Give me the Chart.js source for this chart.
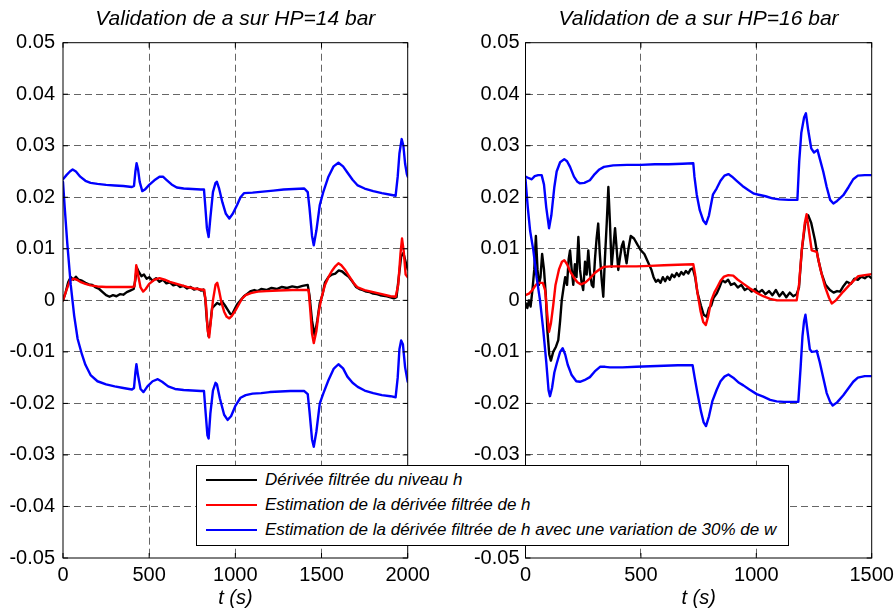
<!DOCTYPE html>
<html><head><meta charset="utf-8">
<script src="https://cdn.jsdelivr.net/npm/chart.js@4.4.1/dist/chart.umd.min.js"></script>
<style>
html,body{margin:0;padding:0;background:#fff;}
#wrap{position:relative;width:896px;height:615px;overflow:hidden;background:#fff;}
canvas{position:absolute;top:0;}
#c1{left:0;}
#c2{left:460px;}
#legend{position:absolute;left:196px;top:465px;width:593px;height:81px;border:1px solid #000;background:#fff;box-sizing:border-box;font-family:"Liberation Sans",Arial,sans-serif;font-style:italic;font-size:17px;color:#000;}
.row{position:absolute;left:0;height:20px;display:flex;align-items:center;white-space:nowrap;}
.sw{display:inline-block;width:51px;height:2px;margin-left:9px;margin-right:8px;}
</style>
</head><body>
<div id="wrap">
<canvas id="c1" width="460" height="615"></canvas>
<canvas id="c2" width="460" height="615"></canvas>
<div id="legend">
 <div class="row" style="top:4px"><span class="sw" style="background:#000"></span><span>Dérivée filtrée du niveau h</span></div>
 <div class="row" style="top:29px"><span class="sw" style="background:#f00"></span><span>Estimation de la dérivée filtrée de h</span></div>
 <div class="row" style="top:54px"><span class="sw" style="background:#00f"></span><span>Estimation de la dérivée filtrée de h avec une variation de 30% de w</span></div>
</div>
</div>
<script>
// ---------- Titles, labels, ticks ----------
const titleLeft = 'Validation de a sur HP=14 bar';
const titleRight = 'Validation de a sur HP=16 bar';
const xLabel = 't (s)';
const xTicksLeft = [0, 500, 1000, 1500, 2000];
const xTicksRight = [0, 500, 1000, 1500];
const yTickValues = [-0.05, -0.04, -0.03, -0.02, -0.01, 0, 0.01, 0.02, 0.03, 0.04, 0.05];
const yTickLabels = ['-0.05', '-0.04', '-0.03', '-0.02', '-0.01', '0', '0.01', '0.02', '0.03', '0.04', '0.05'];
const seriesNames = ['Dérivée filtrée du niveau h', 'Estimation de la dérivée filtrée de h', 'Estimation de la dérivée filtrée de h avec une variation de 30% de w'];

// ---------- Left plot (HP=14 bar) ----------
const leftBlackT = [0,15,30,45,60,75,90,110,130,150,170,190,210,230,250,270,290,310,330,350,370,390,410,420,428,440,455,470,485,500,520,540,560,580,600,620,640,660,680,700,720,740,760,780,800,815,825,835,845,855,865,880,895,910,925,940,955,970,980,995,1010,1030,1050,1070,1090,1110,1130,1150,1180,1210,1240,1270,1300,1330,1360,1390,1420,1430,1445,1460,1475,1490,1505,1520,1540,1560,1580,1600,1620,1640,1660,1680,1700,1720,1740,1760,1780,1800,1820,1840,1860,1880,1900,1920,1935,1950,1962,1975,1988,2000];
const leftBlackV = [0.0000,0.0015,0.0035,0.0045,0.0040,0.0046,0.0040,0.0038,0.0034,0.0031,0.0030,0.0025,0.0022,0.0016,0.0010,0.0007,0.0010,0.0008,0.0012,0.0011,0.0016,0.0019,0.0022,0.0040,0.0064,0.0055,0.0047,0.0050,0.0042,0.0045,0.0038,0.0043,0.0036,0.0040,0.0033,0.0035,0.0029,0.0031,0.0026,0.0028,0.0023,0.0026,0.0021,0.0023,0.0019,0.0021,0.0005,-0.0040,-0.0070,-0.0045,-0.0015,-0.0010,-0.0005,-0.0008,-0.0003,-0.0010,-0.0018,-0.0026,-0.0028,-0.0018,-0.0008,0.0000,0.0008,0.0013,0.0018,0.0020,0.0018,0.0022,0.0020,0.0024,0.0022,0.0026,0.0024,0.0027,0.0025,0.0028,0.0030,0.0010,-0.0040,-0.0068,-0.0040,-0.0005,0.0010,0.0035,0.0045,0.0050,0.0052,0.0058,0.0056,0.0050,0.0045,0.0036,0.0026,0.0022,0.0020,0.0017,0.0016,0.0013,0.0012,0.0010,0.0009,0.0008,0.0006,0.0004,0.0006,0.0050,0.0085,0.0092,0.0075,0.0060];

const leftRedT = [0,20,40,60,80,100,130,160,200,250,300,350,400,415,425,435,450,465,480,500,530,560,590,620,650,680,720,760,800,820,830,840,848,858,870,885,895,905,920,935,950,965,980,1000,1020,1040,1060,1090,1130,1180,1250,1330,1400,1425,1435,1445,1455,1470,1485,1500,1520,1540,1560,1580,1598,1615,1635,1660,1690,1710,1750,1800,1850,1900,1930,1945,1958,1967,1977,1988,2000];
const leftRedV = [0.0000,0.0020,0.0038,0.0042,0.0040,0.0036,0.0032,0.0029,0.0027,0.0026,0.0026,0.0026,0.0026,0.0027,0.0068,0.0050,0.0025,0.0017,0.0022,0.0032,0.0040,0.0043,0.0040,0.0036,0.0033,0.0030,0.0026,0.0023,0.0021,0.0020,-0.0010,-0.0060,-0.0072,-0.0040,0.0000,0.0030,0.0034,0.0020,-0.0005,-0.0022,-0.0032,-0.0035,-0.0030,-0.0020,-0.0008,0.0004,0.0010,0.0014,0.0017,0.0018,0.0019,0.0020,0.0020,0.0020,-0.0020,-0.0065,-0.0083,-0.0060,-0.0020,0.0005,0.0030,0.0045,0.0057,0.0066,0.0072,0.0068,0.0060,0.0047,0.0032,0.0025,0.0020,0.0016,0.0012,0.0008,0.0007,0.0030,0.0090,0.0120,0.0095,0.0050,0.0045];

const leftBlueUpT = [0,20,40,56,75,100,130,160,200,250,300,350,400,412,420,427,435,445,460,475,500,530,560,580,600,630,660,700,750,800,818,825,835,845,855,870,885,893,905,925,945,965,985,1010,1030,1050,1100,1160,1220,1280,1340,1400,1420,1430,1445,1455,1470,1490,1510,1540,1570,1598,1625,1650,1680,1710,1750,1800,1850,1900,1930,1942,1952,1965,1975,1985,1995,2000];
const leftBlueUpV = [0.0235,0.0243,0.0250,0.0254,0.0250,0.0240,0.0232,0.0228,0.0226,0.0224,0.0223,0.0222,0.0220,0.0222,0.0250,0.0266,0.0255,0.0230,0.0212,0.0215,0.0224,0.0233,0.0240,0.0240,0.0234,0.0225,0.0219,0.0217,0.0216,0.0215,0.0215,0.0185,0.0140,0.0123,0.0160,0.0210,0.0228,0.0230,0.0218,0.0190,0.0168,0.0159,0.0168,0.0185,0.0200,0.0208,0.0209,0.0211,0.0213,0.0215,0.0216,0.0217,0.0210,0.0180,0.0125,0.0107,0.0135,0.0185,0.0210,0.0240,0.0260,0.0267,0.0260,0.0248,0.0234,0.0223,0.0217,0.0212,0.0208,0.0205,0.0203,0.0240,0.0285,0.0313,0.0300,0.0265,0.0245,0.0240];

const leftBlueLoT = [0,10,25,45,65,85,110,130,160,200,250,300,350,400,412,420,426,435,450,467,490,520,550,575,610,650,700,750,800,818,828,838,845,855,870,885,893,910,935,955,975,1000,1030,1060,1100,1150,1200,1260,1320,1400,1420,1430,1445,1455,1470,1490,1510,1540,1570,1598,1625,1650,1680,1710,1750,1800,1850,1900,1930,1942,1952,1962,1972,1985,2000];
const leftBlueLoV = [0.0230,0.0180,0.0110,0.0030,-0.0030,-0.0075,-0.0105,-0.0125,-0.0145,-0.0157,-0.0163,-0.0167,-0.0170,-0.0173,-0.0170,-0.0140,-0.0124,-0.0145,-0.0172,-0.0178,-0.0167,-0.0157,-0.0153,-0.0158,-0.0167,-0.0172,-0.0174,-0.0175,-0.0176,-0.0176,-0.0220,-0.0262,-0.0268,-0.0220,-0.0175,-0.0160,-0.0163,-0.0190,-0.0222,-0.0232,-0.0225,-0.0205,-0.0189,-0.0184,-0.0181,-0.0180,-0.0178,-0.0177,-0.0176,-0.0176,-0.0182,-0.0215,-0.0270,-0.0284,-0.0255,-0.0200,-0.0181,-0.0155,-0.0133,-0.0124,-0.0132,-0.0148,-0.0160,-0.0168,-0.0175,-0.0180,-0.0184,-0.0186,-0.0188,-0.0150,-0.0095,-0.0078,-0.0085,-0.0130,-0.0158];

// ---------- Right plot (HP=16 bar) ----------
const rightBlackT = [0,8,15,22,30,38,45,52,58,65,72,80,88,95,103,110,120,132,142,150,157,165,172,180,187,193,200,207,214,221,229,236,243,250,258,265,272,279,287,294,301,308,315,322,330,337,344,352,359,366,373,380,388,395,402,410,417,424,431,438,446,456,470,485,500,515,530,545,555,565,575,585,595,605,615,625,635,645,655,665,675,685,695,705,715,725,735,745,760,772,785,795,805,815,828,840,852,865,878,890,905,920,935,950,965,980,995,1010,1025,1040,1055,1070,1085,1100,1115,1130,1145,1160,1175,1185,1197,1212,1225,1238,1254,1268,1283,1300,1319,1335,1350,1363,1378,1392,1410,1425,1440,1455,1470,1485,1500];
const rightBlackV = [-0.0005,-0.0015,0.0000,-0.0012,0.0020,0.0060,0.0125,0.0060,0.0030,0.0045,0.0090,0.0060,0.0010,-0.0060,-0.0105,-0.0117,-0.0100,-0.0090,-0.0077,-0.0040,0.0000,0.0025,0.0045,0.0030,0.0080,0.0097,0.0060,0.0030,0.0070,0.0045,0.0123,0.0060,0.0035,0.0020,0.0075,0.0050,0.0097,0.0055,0.0030,0.0026,0.0080,0.0120,0.0149,0.0090,0.0040,0.0007,0.0080,0.0150,0.0220,0.0150,0.0065,0.0100,0.0140,0.0100,0.0059,0.0085,0.0105,0.0114,0.0090,0.0072,0.0100,0.0125,0.0120,0.0108,0.0097,0.0090,0.0075,0.0060,0.0045,0.0036,0.0040,0.0034,0.0045,0.0037,0.0046,0.0040,0.0050,0.0045,0.0053,0.0047,0.0055,0.0050,0.0057,0.0052,0.0060,0.0062,0.0045,0.0015,-0.0010,-0.0028,-0.0032,-0.0015,-0.0010,0.0005,0.0013,0.0025,0.0039,0.0035,0.0040,0.0030,0.0033,0.0025,0.0030,0.0020,0.0024,0.0017,0.0022,0.0015,0.0020,0.0012,0.0018,0.0010,0.0020,0.0008,0.0016,0.0006,0.0015,0.0008,0.0012,0.0025,0.0097,0.0150,0.0165,0.0150,0.0117,0.0080,0.0052,0.0030,0.0020,0.0015,0.0018,0.0017,0.0028,0.0036,0.0032,0.0042,0.0040,0.0046,0.0043,0.0048,0.0043];

const rightRedT = [0,15,30,45,55,75,85,95,102,110,120,130,145,158,168,180,195,210,225,240,260,280,300,320,340,370,420,480,540,600,660,727,735,745,758,770,781,792,805,818,830,845,860,879,900,920,945,973,1000,1030,1060,1090,1130,1175,1185,1197,1210,1218,1228,1240,1262,1278,1298,1315,1327,1345,1377,1410,1442,1470,1500];
const rightRedV = [0.0010,0.0013,0.0020,0.0030,0.0034,0.0034,0.0020,-0.0030,-0.0061,-0.0045,-0.0010,0.0030,0.0060,0.0075,0.0078,0.0070,0.0055,0.0044,0.0035,0.0031,0.0035,0.0043,0.0053,0.0060,0.0065,0.0066,0.0066,0.0066,0.0067,0.0068,0.0069,0.0070,0.0050,0.0015,-0.0020,-0.0042,-0.0048,-0.0030,0.0000,0.0015,0.0025,0.0038,0.0046,0.0049,0.0048,0.0040,0.0032,0.0023,0.0015,0.0008,0.0003,0.0000,0.0000,0.0000,0.0030,0.0097,0.0150,0.0167,0.0135,0.0097,0.0094,0.0060,0.0026,0.0005,-0.0006,0.0000,0.0017,0.0033,0.0047,0.0049,0.0051];

const rightBlueUpT = [0,15,27,40,55,70,80,90,102,112,125,135,150,168,180,193,210,225,236,255,279,300,320,340,380,440,500,560,620,680,727,732,742,755,770,782,795,812,828,845,862,879,895,915,940,965,990,1010,1040,1070,1100,1140,1178,1186,1195,1207,1215,1225,1238,1250,1265,1275,1290,1305,1320,1334,1350,1377,1400,1420,1440,1470,1500];
const rightBlueUpV = [0.0240,0.0237,0.0235,0.0241,0.0243,0.0243,0.0225,0.0180,0.0140,0.0165,0.0220,0.0250,0.0268,0.0274,0.0270,0.0259,0.0240,0.0230,0.0227,0.0228,0.0233,0.0245,0.0254,0.0259,0.0262,0.0263,0.0263,0.0264,0.0264,0.0265,0.0266,0.0240,0.0205,0.0175,0.0155,0.0148,0.0165,0.0205,0.0217,0.0232,0.0242,0.0245,0.0240,0.0232,0.0222,0.0214,0.0207,0.0205,0.0202,0.0198,0.0196,0.0195,0.0195,0.0270,0.0325,0.0355,0.0363,0.0330,0.0295,0.0287,0.0292,0.0275,0.0250,0.0220,0.0195,0.0188,0.0193,0.0204,0.0220,0.0235,0.0242,0.0243,0.0243];

const rightBlueLoT = [0,10,20,34,48,63,77,90,100,106,115,125,135,150,161,172,183,200,220,236,255,279,300,323,345,366,420,480,540,600,660,724,733,745,760,772,782,795,810,828,845,862,879,900,925,944,970,1002,1030,1060,1088,1120,1150,1182,1192,1200,1207,1213,1222,1232,1240,1255,1262,1275,1290,1305,1320,1331,1350,1377,1400,1420,1440,1470,1500];
const rightBlueLoV = [0.0235,0.0180,0.0135,0.0097,0.0045,0.0000,-0.0058,-0.0120,-0.0175,-0.0186,-0.0170,-0.0140,-0.0123,-0.0100,-0.0093,-0.0105,-0.0125,-0.0145,-0.0157,-0.0158,-0.0155,-0.0149,-0.0138,-0.0129,-0.0129,-0.0130,-0.0130,-0.0129,-0.0128,-0.0127,-0.0126,-0.0126,-0.0150,-0.0180,-0.0215,-0.0237,-0.0244,-0.0225,-0.0195,-0.0174,-0.0157,-0.0148,-0.0144,-0.0150,-0.0160,-0.0165,-0.0173,-0.0182,-0.0187,-0.0193,-0.0196,-0.0197,-0.0197,-0.0197,-0.0130,-0.0070,-0.0040,-0.0028,-0.0060,-0.0095,-0.0100,-0.0099,-0.0098,-0.0120,-0.0150,-0.0180,-0.0197,-0.0204,-0.0198,-0.0184,-0.0170,-0.0158,-0.0150,-0.0147,-0.0147];

// ---------- Rendering ----------
const FONT = '"Liberation Sans", Arial, Helvetica, sans-serif';
const pts = (t, v) => t.map((x, i) => ({x: x, y: v[i]}));
const isEdge = (v, a, b) => Math.abs(v - a) < 1e-9 || Math.abs(v - b) < 1e-9;

const boxPlugin = {
  id: 'matlabBox',
  afterDraw(chart) {
    const {ctx, chartArea: a} = chart;
    const xs = chart.scales.x, ys = chart.scales.y;
    const L = 5;
    ctx.save();
    ctx.strokeStyle = '#000';
    ctx.lineWidth = 1;
    ctx.beginPath();
    xs.ticks.forEach(t => {
      const px = xs.getPixelForValue(t.value);
      ctx.moveTo(px, a.bottom); ctx.lineTo(px, a.bottom - L);
      ctx.moveTo(px, a.top); ctx.lineTo(px, a.top + L);
    });
    ys.ticks.forEach(t => {
      const py = ys.getPixelForValue(t.value);
      ctx.moveTo(a.left, py); ctx.lineTo(a.left + L, py);
      ctx.moveTo(a.right, py); ctx.lineTo(a.right - L, py);
    });
    ctx.stroke();
    ctx.strokeRect(a.left, a.top, a.right - a.left, a.bottom - a.top);
    ctx.restore();
  }
};

function makeChart(id, title, xTicks, xMax, data, yWidth, padRight, yPad) {
  const [bt, bv, rt, rv, ut, uv, lt, lv] = data;
  return new Chart(document.getElementById(id), {
    type: 'line',
    data: {
      datasets: [
        {label: seriesNames[0], data: pts(bt, bv), borderColor: '#000000', order: 2},
        {label: seriesNames[1], data: pts(rt, rv), borderColor: '#ff0000', order: 1},
        {label: seriesNames[2], data: pts(ut, uv), borderColor: '#0000ff', order: 0},
        {label: seriesNames[2] + ' ', data: pts(lt, lv), borderColor: '#0000ff', order: 0}
      ]
    },
    options: {
      responsive: false,
      animation: false,
      devicePixelRatio: 1,
      elements: {line: {borderWidth: 2.4, tension: 0, borderJoinStyle: 'round', borderCapStyle: 'round'}, point: {radius: 0, hoverRadius: 0}},
      layout: {padding: {left: 0, right: padRight, top: 0, bottom: 0}},
      plugins: {
        legend: {display: false},
        tooltip: {enabled: false},
        title: {display: true, text: title, fullSize: false, color: '#000',
          font: {family: FONT, size: 21, style: 'italic', weight: 'normal'},
          padding: {top: 7, bottom: 10.5}}
      },
      scales: {
        x: {
          type: 'linear', min: 0, max: xMax,
          afterBuildTicks: s => { s.ticks = xTicks.map(v => ({value: v})); },
          afterFit: s => { s.height = 57; },
          ticks: {color: '#000', font: {family: FONT, size: 20}, padding: 5, maxRotation: 0,
            callback: v => String(v)},
          grid: {drawTicks: false, lineWidth: 1,
            color: c => (c.tick && isEdge(c.tick.value, 0, xMax)) ? 'rgba(0,0,0,0)' : '#666666'},
          border: {display: false, dash: [7, 4]},
          title: {display: true, text: xLabel, color: '#000',
            font: {family: FONT, size: 20, style: 'italic'}, padding: {top: 0, bottom: 5}}
        },
        y: {
          type: 'linear', min: -0.05, max: 0.05,
          afterBuildTicks: s => { s.ticks = yTickValues.map(v => ({value: v})); },
          afterFit: s => { s.width = yWidth; },
          ticks: {color: '#000', font: {family: FONT, size: 20}, padding: yPad,
            callback: (v, i) => yTickLabels[i]},
          grid: {drawTicks: false, lineWidth: 1,
            color: c => (c.tick && isEdge(c.tick.value, -0.05, 0.05)) ? 'rgba(0,0,0,0)' : '#666666'},
          border: {display: false, dash: [7, 4]}
        }
      }
    },
    plugins: [boxPlugin]
  });
}

makeChart('c1', titleLeft, xTicksLeft, 2000,
  [leftBlackT, leftBlackV, leftRedT, leftRedV, leftBlueUpT, leftBlueUpV, leftBlueLoT, leftBlueLoV], 63, 52.3, 8);
makeChart('c2', titleRight, xTicksRight, 1500,
  [rightBlackT, rightBlackV, rightRedT, rightRedV, rightBlueUpT, rightBlueUpV, rightBlueLoT, rightBlueLoV], 65.5, 48.3, 6);
</script>
</body></html>
